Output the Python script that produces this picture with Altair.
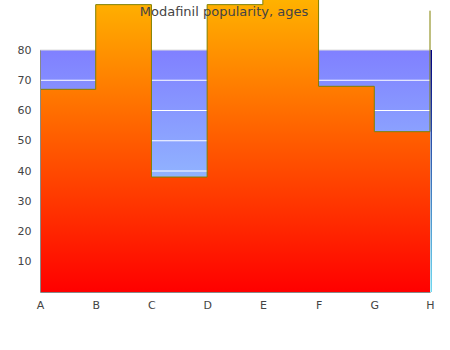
import altair as alt
import pandas as pd

title_text = "Modafinil popularity, ages"
categories = ["A", "B", "C", "D", "E", "F", "G", "H"]
values = [67, 95, 38, 95, 100, 68, 53, 93]
grid_values = [10, 20, 30, 40, 50, 60, 70, 80]
y_top = 80

W, H = 390, 242
FONT = "DejaVu Sans"

df = pd.DataFrame({"cat": categories, "val": values})
bg = pd.DataFrame({"top": [y_top], "bottom": [0]})
grid = pd.DataFrame({"g": grid_values,
                     "c": ["#ffffff"] * (len(grid_values) - 1) + ["#dddddd"]})
tdf = pd.DataFrame({"t": [title_text]})

xscale = alt.Scale(type="point", domain=categories, padding=0)
yscale = alt.Scale(domain=[0, y_top], nice=False)

xaxis = alt.Axis(title=None, labelAngle=0, ticks=False, grid=False,
                 domainColor="#888888", labelColor="#444444",
                 labelFont=FONT, labelFontSize=11, labelPadding=7,
                 zindex=1)
yaxis = alt.Axis(title=None, values=grid_values, ticks=False, grid=False,
                 domainColor="#888888", labelColor="#444444",
                 labelFont=FONT, labelFontSize=11, labelPadding=9,
                 labelOverlap=False, zindex=1)

blue_grad = alt.LinearGradient(gradient="linear", x1=0, x2=0, y1=0, y2=1,
                               stops=[alt.GradientStop(color="#8080ff", offset=0),
                                      alt.GradientStop(color="#a0e0ff", offset=1)])
orange_grad = alt.LinearGradient(gradient="linear", x1=0, x2=0, y1=0, y2=1,
                                 stops=[alt.GradientStop(color="#ffb800", offset=0),
                                        alt.GradientStop(color="#ff0000", offset=1)])
edge_grad = alt.LinearGradient(gradient="linear", x1=0, x2=0, y1=0, y2=1,
                               stops=[alt.GradientStop(color="#000080", offset=0),
                                      alt.GradientStop(color="#70d8f0", offset=1)])

background = alt.Chart(bg).mark_rect(fill=blue_grad, opacity=1).encode(
    x=alt.value(0), x2=alt.value(W),
    y=alt.Y("top:Q", scale=yscale, axis=yaxis), y2="bottom:Q")

rules = alt.Chart(grid).mark_rule(strokeWidth=1).encode(
    x=alt.value(0), x2=alt.value(W),
    y=alt.Y("g:Q", scale=yscale, axis=yaxis),
    color=alt.Color("c:N", scale=None))

area = alt.Chart(df).mark_area(
    interpolate="step-after", fill=orange_grad, opacity=1, fillOpacity=1,
    line={"color": "#808000", "strokeWidth": 1}).encode(
    x=alt.X("cat:N", scale=xscale, sort=categories, axis=xaxis),
    y=alt.Y("val:Q", scale=yscale, axis=yaxis))

edge = alt.Chart(bg).mark_rect(fill=edge_grad, opacity=1).encode(
    x=alt.value(W + 0.5), x2=alt.value(W + 2),
    y=alt.Y("top:Q", scale=yscale, axis=yaxis), y2="bottom:Q")

title = alt.Chart(tdf).mark_text(
    font=FONT, fontSize=13, color="#444444", align="center",
    baseline="middle").encode(
    x=alt.value(W / 2 - 11), y=alt.value(-38), text="t:N")

chart = alt.layer(background, rules, area, edge, title).properties(
    width=W, height=H,
    autosize=alt.AutoSizeParams(type="none"),
    padding={"left": 40, "top": 50, "right": 20, "bottom": 58},
).configure_view(stroke=None)

chart.save("out.html", embed_options={"renderer": "svg", "actions": False})
